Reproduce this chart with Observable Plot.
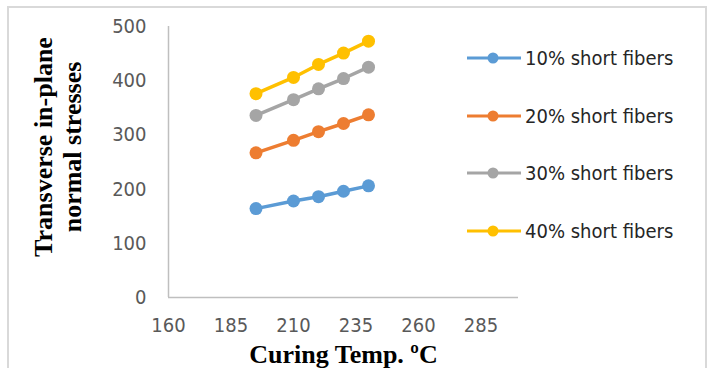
<!DOCTYPE html>
<html>
<head>
<meta charset="utf-8">
<script src="https://cdn.jsdelivr.net/npm/d3@7"></script>
<script src="https://cdn.jsdelivr.net/npm/@observablehq/plot@0.6"></script>
<style>
  html, body { margin: 0; padding: 0; background: #fff; }
  #wrap { position: relative; width: 714px; height: 368px; overflow: hidden; background: #fff; }
  #border { position: absolute; left: 7px; top: 6px; width: 700px; height: 400px; border: 2px solid #d9d9d9; box-sizing: border-box; pointer-events: none; }
  #legend { position: absolute; left: 467px; top: 0; font-family: "DejaVu Sans Condensed", "Liberation Sans", sans-serif; font-size: 20px; color: #262626; }
  .item { position: absolute; left: 0; display: flex; align-items: center; white-space: nowrap; transform: translateY(-50%); }
  .item svg { display: block; margin-right: 4px; }
</style>
</head>
<body>
<div id="wrap">
  <div id="chart"></div>
  <div id="legend"></div>
  <div id="border"></div>
</div>
<script>
// ---- data ----
const temps = [195, 210, 220, 230, 240];
const seriesNames = ["10% short fibers", "20% short fibers", "30% short fibers", "40% short fibers"];
const s10 = [164, 178, 186, 196, 206];
const s20 = [267, 290, 306, 321, 337];
const s30 = [336, 365, 385, 404, 425];
const s40 = [376, 406, 430, 451, 473];
const xTicks = [160, 185, 210, 235, 260, 285];
const yTicks = [0, 100, 200, 300, 400, 500];
const xTitle = "Curing Temp. ºC";
const yTitle = "Transverse in-plane\nnormal stresses";

// ---- styles ----
const colors = ["#5B9BD5", "#ED7D31", "#A5A5A5", "#FFC000"];

const allSeries = [s10, s20, s30, s40];
const rows = [];
allSeries.forEach((vals, i) => vals.forEach((v, j) => rows.push({t: temps[j], v, s: seriesNames[i]})));

const tickFont = '"DejaVu Sans Condensed", "Liberation Sans", sans-serif';
const titleFont = '"Liberation Serif", "DejaVu Serif", serif';

const chart = Plot.plot({
  width: 714,
  height: 368,
  marginLeft: 168,
  marginRight: 196,
  marginTop: 26,
  marginBottom: 71,
  style: { fontFamily: tickFont, fontSize: "20px", color: "#595959", background: "transparent" },
  x: { domain: [160, 300] },
  y: { domain: [0, 500] },
  color: { domain: seriesNames, range: colors },
  marks: [
    Plot.axisX({ ticks: xTicks, tickSize: 0, tickPadding: 20, tickFormat: d3.format("d"), label: null }),
    Plot.axisY({ ticks: yTicks, tickSize: 0, tickPadding: 22, tickFormat: d3.format("d"), label: null }),
    Plot.ruleX([160], { stroke: "#bfbfbf", strokeWidth: 1.5 }),
    Plot.ruleY([0], { stroke: "#bfbfbf", strokeWidth: 1.5 }),
    Plot.line(rows, { x: "t", y: "v", z: "s", stroke: "s", strokeWidth: 3.5 }),
    Plot.dot(rows, { x: "t", y: "v", fill: "s", r: 6.5 }),
    Plot.text([yTitle], { text: d => d, frameAnchor: "left", dx: -111, dy: -15, rotate: -90,
      textAnchor: "middle", lineAnchor: "middle",
      fontSize: 26, fontWeight: "bold", fontFamily: titleFont, fill: "#000", lineHeight: 1.12 }),
    Plot.text([xTitle], { text: d => d, frameAnchor: "bottom", dy: 57, lineAnchor: "middle",
      fontSize: 26, fontWeight: "bold", fontFamily: titleFont, fill: "#000" })
  ]
});
document.getElementById("chart").appendChild(chart);

// ---- legend (HTML) ----
const legendTops = [58, 115.5, 173, 230.5];
const legend = document.getElementById("legend");
seriesNames.forEach((name, i) => {
  const item = document.createElement("div");
  item.className = "item";
  item.style.top = legendTops[i] + "px";
  item.innerHTML = `<svg width="54" height="14"><line x1="0" y1="7" x2="54" y2="7" stroke="${colors[i]}" stroke-width="3"/><circle cx="26" cy="7" r="5.5" fill="${colors[i]}"/></svg><span>${name}</span>`;
  legend.appendChild(item);
});
</script>
</body>
</html>
